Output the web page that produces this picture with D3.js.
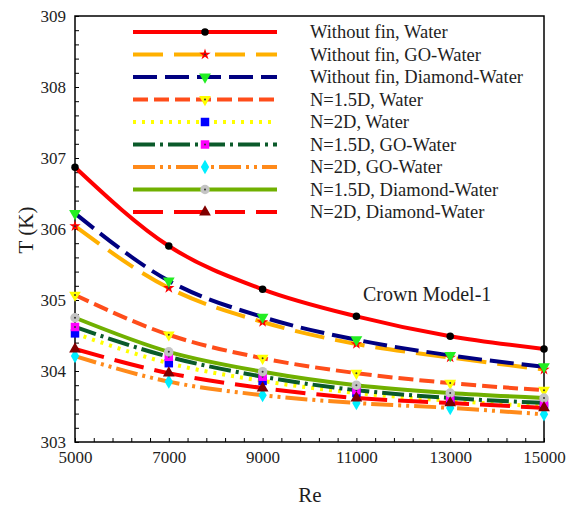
<!DOCTYPE html>
<html>
<head>
<meta charset="utf-8">
<script src="https://cdn.jsdelivr.net/npm/d3@7"></script>
<style>
  html, body { margin: 0; padding: 0; background: #fff; }
  svg { display: block; }
</style>
</head>
<body>
<svg id="chart" width="574" height="510"></svg>
<script>
// Reynolds numbers (x) and outlet temperature T (K) for each configuration
const reynolds = [5000, 7000, 9000, 11000, 13000, 15000];

const withoutFinWater   = [306.87, 305.76, 305.15, 304.77, 304.49, 304.31];
const withoutFinGO      = [306.04, 305.17, 304.69, 304.38, 304.19, 304.02];
const withoutFinDiamond = [306.22, 305.27, 304.76, 304.44, 304.22, 304.06];
const n15Water          = [305.07, 304.51, 304.18, 303.97, 303.83, 303.73];
const n2Water           = [304.53, 304.11, 303.86, 303.69, 303.58, 303.50];
const n15GO             = [304.62, 304.20, 303.92, 303.73, 303.62, 303.55];
const n2GO              = [304.21, 303.85, 303.66, 303.55, 303.48, 303.39];
const n15Diamond        = [304.75, 304.27, 303.99, 303.80, 303.69, 303.62];
const n2Diamond         = [304.31, 303.97, 303.76, 303.62, 303.55, 303.48];

const seriesNames = [
  "Without fin, Water",
  "Without fin, GO-Water",
  "Without fin, Diamond-Water",
  "N=1.5D, Water",
  "N=2D, Water",
  "N=1.5D, GO-Water",
  "N=2D, GO-Water",
  "N=1.5D, Diamond-Water",
  "N=2D, Diamond-Water"
];
const seriesValues = [withoutFinWater, withoutFinGO, withoutFinDiamond, n15Water,
                      n2Water, n15GO, n2GO, n15Diamond, n2Diamond];

const xTicks = [5000, 7000, 9000, 11000, 13000, 15000];
const yTicks = [303, 304, 305, 306, 307, 308, 309];

const FONT = "'Liberation Serif', 'Times New Roman', serif";
const TEXT_COLOR = "#1e1e1e";

// line and marker styling per series
const styles = [
  { color: "#ff0000", dash: null,           marker: "circle",  mFill: "#000000", mSize: 44, dot: false },
  { color: "#ffb000", dash: "30,11",        marker: "star",    mFill: "#ff0000", mSize: 40, dot: true },
  { color: "#000080", dash: "24,8",         marker: "triDown", mFill: "#22ee22", mSize: 60, dot: false },
  { color: "#ff4d1a", dash: "15,6",         marker: "triDown", mFill: "#ffff00", mSize: 60, dot: true },
  { color: "#ffff00", dash: "3,6",          marker: "square",  mFill: "#0000ff", mSize: 72, dot: false },
  { color: "#0a5a2a", dash: "22,5,3,5",     marker: "square",  mFill: "#ff00ff", mSize: 72, dot: true },
  { color: "#ff8a1a", dash: "22,5,3,5,3,5", marker: "diamond", mFill: "#00eeff", mSize: 60, dot: false },
  { color: "#70b000", dash: null,           marker: "circle",  mFill: "#c4c4c4", mSize: 70, dot: true },
  { color: "#ff0000", dash: "30,11",        marker: "triUp",   mFill: "#800000", mSize: 60, dot: false }
];

const svg = d3.select("#chart");
const plot = { left: 75, right: 544, top: 16, bottom: 442 };

const x = d3.scaleLinear().domain([5000, 15000]).range([plot.left, plot.right]);
const y = d3.scaleLinear().domain([303, 309]).range([plot.bottom, plot.top]);

// frame
svg.append("rect")
  .attr("x", plot.left).attr("y", plot.top)
  .attr("width", plot.right - plot.left).attr("height", plot.bottom - plot.top)
  .attr("fill", "none").attr("stroke", "#000").attr("stroke-width", 1.5);

// bottom axis: inward minor ticks every 400, labels every 2000
const xAxis = d3.axisBottom(x)
  .tickValues(d3.range(5000, 15001, 400))
  .tickSize(-4)
  .tickFormat(d => xTicks.includes(d) ? d : "");
const gx = svg.append("g").attr("transform", `translate(0,${plot.bottom})`).call(xAxis);
gx.attr("font-family", null);
gx.select(".domain").remove();
gx.selectAll("line").attr("stroke", "#000");
gx.selectAll("text")
  .style("font-family", FONT).style("font-size", "17px")
  .attr("dy", "1.05em").attr("fill", TEXT_COLOR);

// left axis: inward minor ticks every 0.2, labels every 1
const yAxis = d3.axisLeft(y)
  .tickValues(d3.range(0, 31).map(i => 303 + i * 0.2))
  .tickSize(-4)
  .tickFormat(d => {
    const r = Math.round(d);
    return Math.abs(d - r) < 1e-6 && yTicks.includes(r) ? r : "";
  });
const gy = svg.append("g").attr("transform", `translate(${plot.left},0)`).call(yAxis);
gy.attr("font-family", null);
gy.select(".domain").remove();
gy.selectAll("line").attr("stroke", "#000");
gy.selectAll("text")
  .style("font-family", FONT).style("font-size", "17px")
  .attr("x", -9).attr("fill", TEXT_COLOR);

// axis titles
svg.append("text")
  .attr("x", 310).attr("y", 502)
  .attr("text-anchor", "middle")
  .style("font-family", FONT).style("font-size", "21px").attr("fill", TEXT_COLOR)
  .text("Re");
svg.append("text")
  .attr("transform", "translate(33,230) rotate(-90)")
  .attr("text-anchor", "middle")
  .style("font-family", FONT).style("font-size", "21px").attr("fill", TEXT_COLOR)
  .text("T (K)");

// curves
const line = d3.line()
  .x((d, i) => x(reynolds[i]))
  .y(d => y(d))
  .curve(d3.curveMonotoneX);

const curves = svg.append("g");
seriesValues.forEach((vals, k) => {
  const s = styles[k];
  curves.append("path")
    .attr("d", line(vals))
    .attr("fill", "none")
    .attr("stroke", s.color)
    .attr("stroke-width", 4)
    .attr("stroke-dasharray", s.dash);
});

// marker drawing helper
function drawMarker(g, cx, cy, s) {
  let shape, rot = 0;
  switch (s.marker) {
    case "circle":  shape = d3.symbolCircle; break;
    case "star":    shape = d3.symbolStar; break;
    case "square":  shape = d3.symbolSquare; break;
    case "diamond": shape = d3.symbolDiamond; break;
    case "triUp":   shape = d3.symbolTriangle; break;
    case "triDown": shape = d3.symbolTriangle; rot = 180; break;
  }
  g.append("path")
    .attr("d", d3.symbol().type(shape).size(s.mSize)())
    .attr("transform", `translate(${cx},${cy}) rotate(${rot})`)
    .attr("fill", s.mFill);
  if (s.dot) {
    g.append("circle").attr("cx", cx).attr("cy", cy).attr("r", 1)
      .attr("fill", "#333");
  }
}

// data markers
const markers = svg.append("g");
seriesValues.forEach((vals, k) => {
  vals.forEach((v, i) => drawMarker(markers, x(reynolds[i]), y(v), styles[k]));
});

// legend
const legend = svg.append("g");
seriesNames.forEach((name, k) => {
  const s = styles[k];
  const ly = 32 + k * 22.5;
  legend.append("line")
    .attr("x1", 133).attr("x2", 277).attr("y1", ly).attr("y2", ly)
    .attr("stroke", s.color).attr("stroke-width", 4)
    .attr("stroke-dasharray", s.dash);
  drawMarker(legend, 205, ly, s);
  legend.append("text")
    .attr("x", 310).attr("y", ly).attr("dy", "0.35em")
    .style("font-family", FONT).style("font-size", "18.5px").attr("fill", TEXT_COLOR)
    .text(name);
});

// model caption
svg.append("text")
  .attr("x", 363).attr("y", 301)
  .style("font-family", FONT).style("font-size", "20px").attr("fill", TEXT_COLOR)
  .text("Crown Model-1");
</script>
</body>
</html>
